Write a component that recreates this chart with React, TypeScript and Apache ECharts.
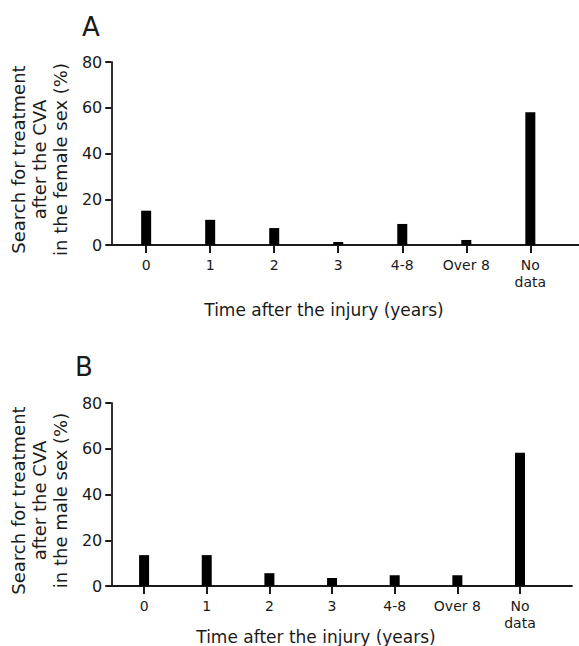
import React, { useEffect, useRef } from "react";
import * as echarts from "echarts";

const categories = ["0", "1", "2", "3", "4-8", "Over 8", "No\ndata"];
const femaleValues = [15, 11, 7.4, 1.3, 9.2, 2.2, 58];
const maleValues = [13.5, 13.5, 5.6, 3.5, 4.7, 4.7, 58.3];
const yTicks = [0, 20, 40, 60, 80];
const panelLetters = ["A", "B"];
const yTitles = [
  "Search for treatment\nafter the CVA\nin the female sex (%)",
  "Search for treatment\nafter the CVA\nin the male sex (%)",
];
const xTitle = "Time after the injury (years)";

const FONT = "DejaVu Sans";
const INK = "#1a1a1a";

export default function App() {
  const ref = useRef<HTMLDivElement>(null);
  useEffect(() => {
    if (!ref.current) return;
    const chart = echarts.init(ref.current, undefined, { renderer: "svg" });
    const idx = categories.map((_, i) => i);
    const grids = [
      { left: 110, top: 62, width: 469, height: 183 },
      { left: 103, top: 403, width: 469, height: 183 },
    ];
    const xRanges = [
      [-0.545, 6.76],
      [-0.524, 6.83],
    ];
    const xAxes = grids.map((_, g) => ({
      type: "value",
      gridIndex: g,
      min: xRanges[g][0],
      max: xRanges[g][1],
      splitLine: { show: false },
      axisLine: { show: true, onZero: false, lineStyle: { color: INK, width: 1.8 } },
      axisTick: {
        show: true,
        customValues: idx,
        length: 8,
        lineStyle: { color: INK, width: 2 },
      },
      axisLabel: {
        customValues: idx,
        formatter: (v: number) => categories[Math.round(v)] ?? "",
        fontFamily: FONT,
        fontSize: 14,
        color: INK,
        margin: 11,
        lineHeight: 17,
        verticalAlign: "top",
      },
    }));
    const yAxes = grids.map((_, g) => ({
      type: "value",
      gridIndex: g,
      min: yTicks[0],
      max: yTicks[yTicks.length - 1],
      interval: 20,
      splitLine: { show: false },
      axisLine: { show: true, onZero: false, lineStyle: { color: INK, width: 1.8 } },
      axisTick: { show: true, length: 6, lineStyle: { color: INK, width: 2 } },
      axisLabel: { fontFamily: FONT, fontSize: 16, color: INK, margin: 9 },
      name: yTitles[g],
      nameLocation: "middle",
      nameGap: 40,
      nameTextStyle: {
        fontFamily: FONT,
        fontSize: 18,
        color: INK,
        lineHeight: 21,
        align: "center",
        padding: [0, 12, 0, 0],
      },
    }));
    const series = [femaleValues, maleValues].map((vals, g) => ({
      type: "bar",
      xAxisIndex: g,
      yAxisIndex: g,
      barWidth: 10,
      itemStyle: { color: "#000" },
      data: vals.map((v, i) => [i, v]),
    }));
    chart.setOption({
      animation: false,
      grid: grids,
      xAxis: xAxes,
      yAxis: yAxes,
      series,
      graphic: [
        { type: "text", left: 82, top: 14, style: { text: panelLetters[0], font: `26px '${FONT}'`, fill: INK } },
        { type: "text", left: 75, top: 354, style: { text: panelLetters[1], font: `26px '${FONT}'`, fill: INK } },
        { type: "text", x: 324, y: 310, style: { text: xTitle, font: `17px '${FONT}'`, fill: INK, align: "center", verticalAlign: "middle" } },
        { type: "text", x: 316, y: 637, style: { text: xTitle, font: `17px '${FONT}'`, fill: INK, align: "center", verticalAlign: "middle" } },
      ],
    });
    return () => chart.dispose();
  }, []);
  return (
    <div
      ref={ref}
      style={{ position: "fixed", left: 0, top: 0, width: 579, height: 646, background: "#fff" }}
    />
  );
}
